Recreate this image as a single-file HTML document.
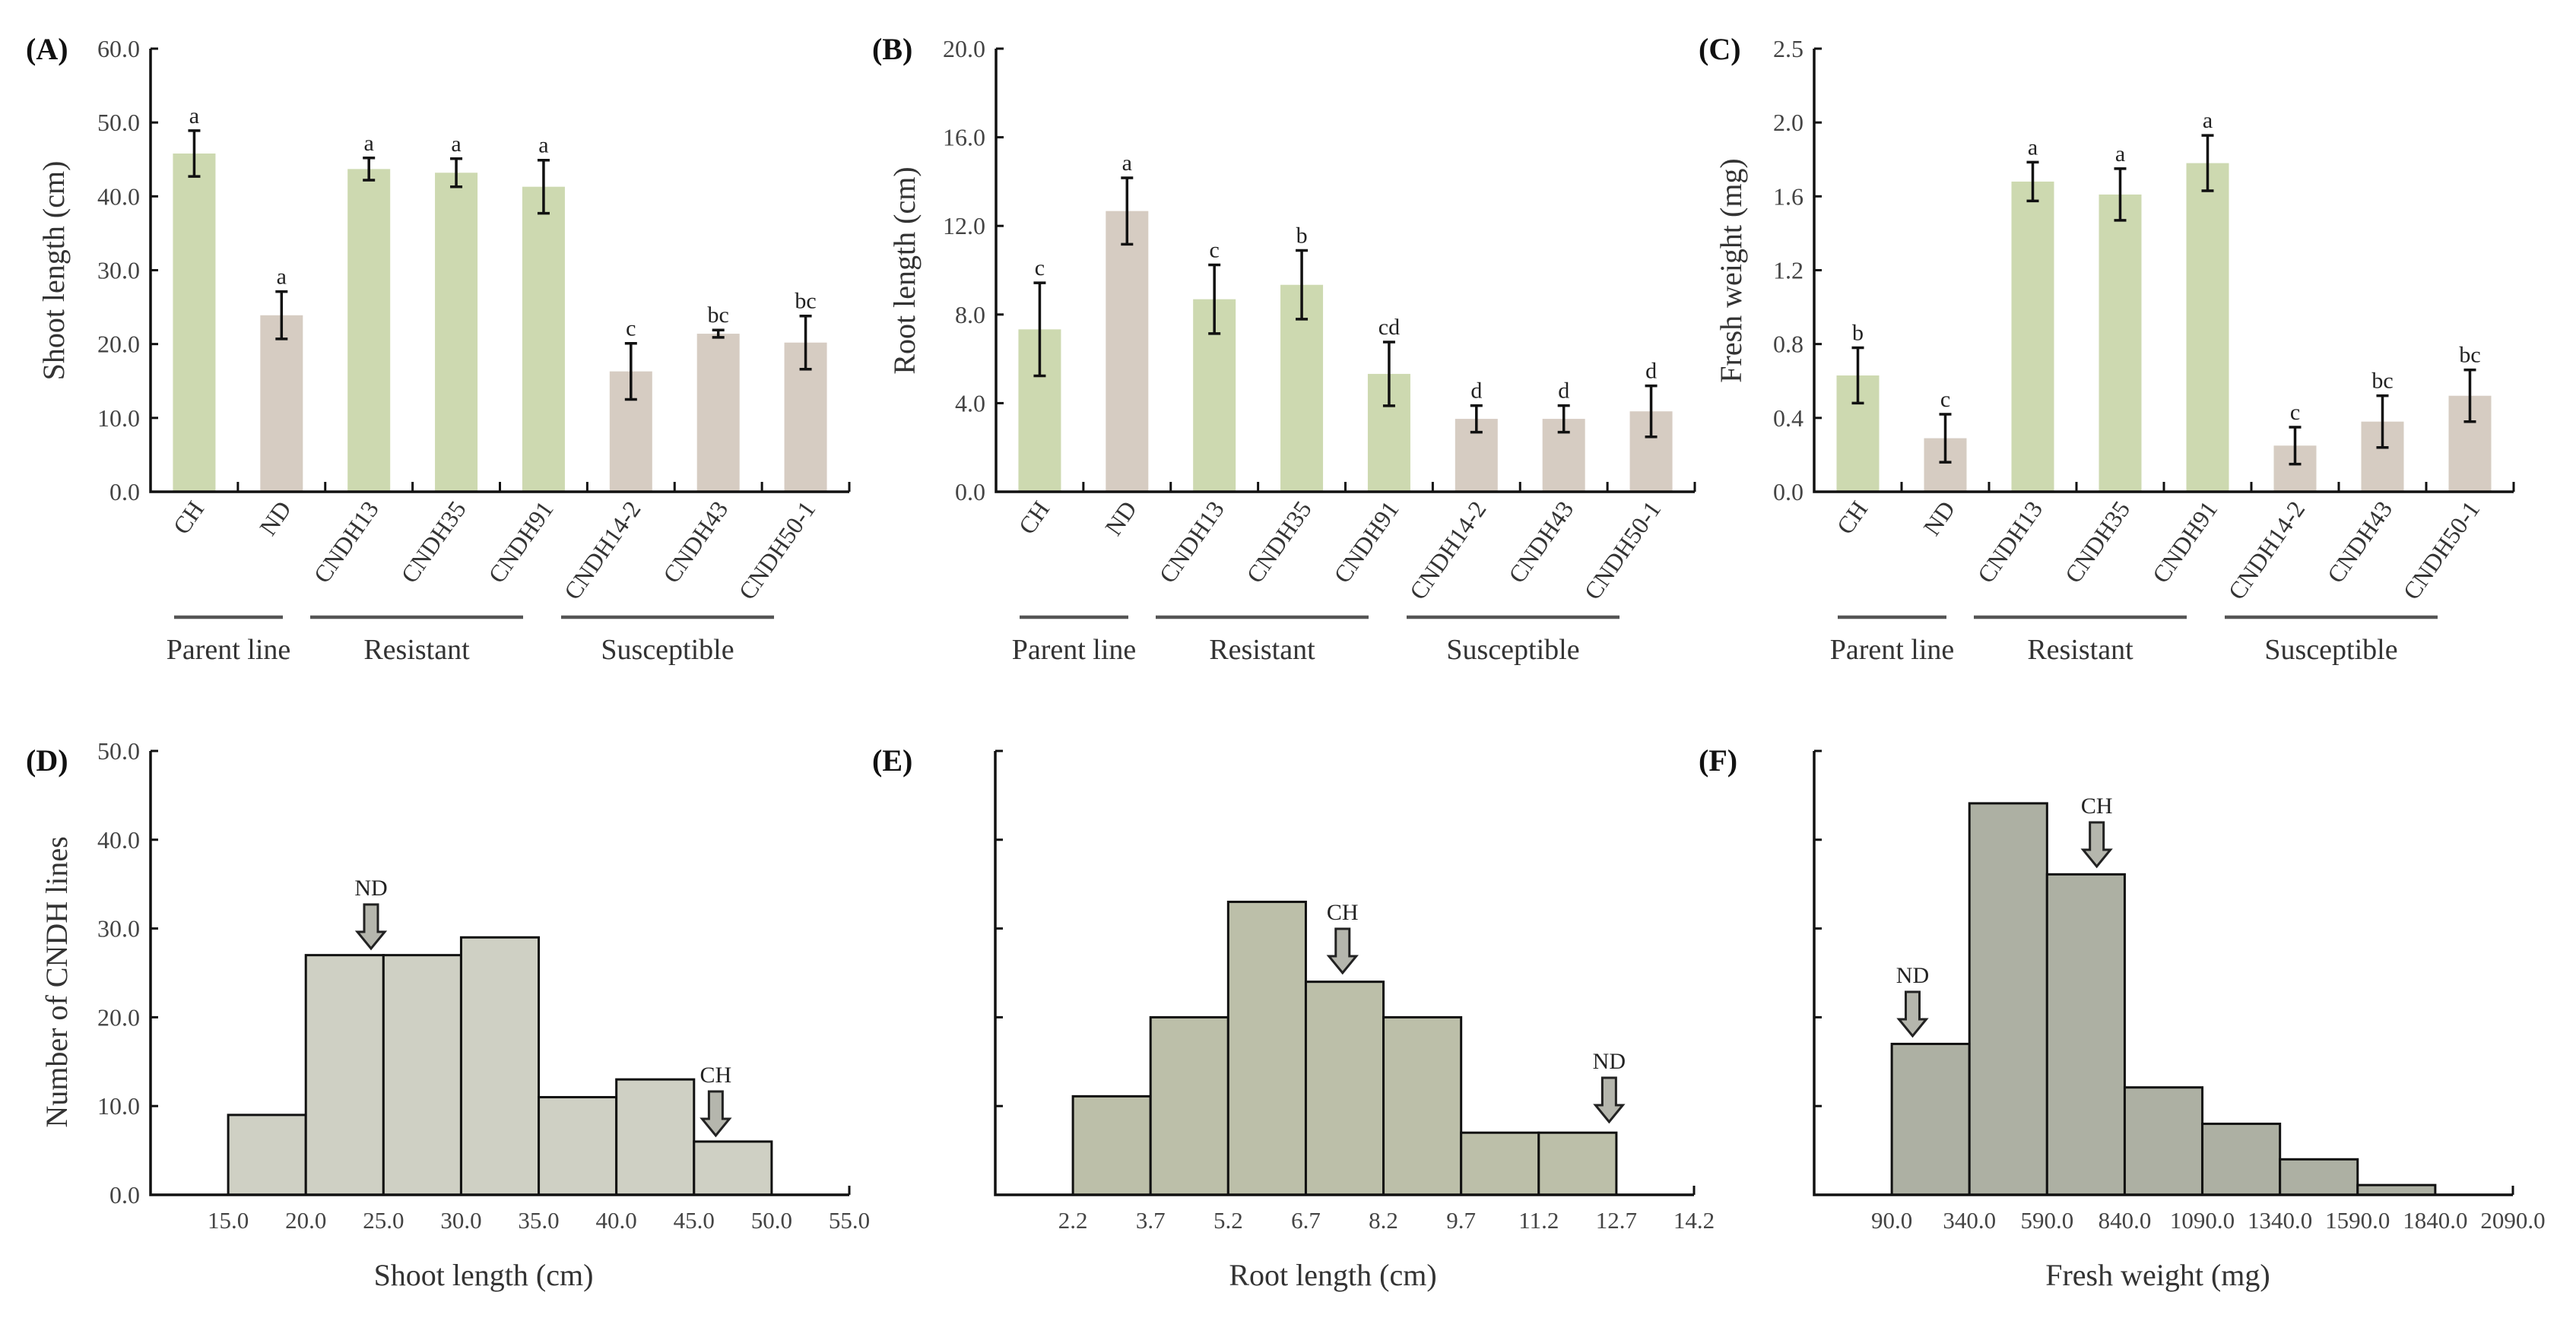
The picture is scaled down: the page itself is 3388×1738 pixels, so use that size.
<!DOCTYPE html>
<html><head><meta charset="utf-8"><style>
html,body{margin:0;padding:0;background:#fff}
svg{display:block;font-family:"Liberation Serif",serif}
</style></head><body>
<svg id="fig" width="3388" height="1738" viewBox="0 0 3388 1738" xmlns="http://www.w3.org/2000/svg"></svg>
<script>
const categories = ["CH","ND","CNDH13","CNDH35","CNDH91","CNDH14-2","CNDH43","CNDH50-1"];
const barGroup = ["g","t","g","g","g","t","t","t"];
const shootMean = [45.8,23.9,43.7,43.2,41.3,16.3,21.4,20.2];
const shootErr  = [3.1,3.2,1.5,1.9,3.6,3.8,0.5,3.6];
const shootLetters = ["a","a","a","a","a","c","bc","bc"];
const rootMean = [7.33,12.67,8.69,9.34,5.32,3.29,3.29,3.63];
const rootErr  = [2.1,1.5,1.55,1.55,1.44,0.6,0.6,1.15];
const rootLetters = ["c","a","c","b","cd","d","d","d"];
const fwMean = [0.63,0.29,1.68,1.61,1.78,0.25,0.38,0.52];
const fwErr  = [0.15,0.13,0.105,0.14,0.15,0.10,0.14,0.14];
const fwLetters = ["b","c","a","a","a","c","bc","bc"];
const shootTicks = [0,10,20,30,40,50,60];
const rootTicks = [0,4,8,12,16,20];
const fwTicks = [0,0.4,0.8,1.2,1.6,2.0,2.4];
const fwTickLabels = ["0.0","0.4","0.8","1.2","1.6","2.0","2.5"];
const groupNames = ["Parent line","Resistant","Susceptible"];

const histDEdges = [15,20,25,30,35,40,45,50];
const histDCounts = [9,27,27,29,11,13,6];
const histDTicks = [15,20,25,30,35,40,45,50,55];
const histEEdges = [2.2,3.7,5.2,6.7,8.2,9.7,11.2,12.7];
const histECounts = [11.1,20,33,24,20,7,7];
const histETicks = [2.2,3.7,5.2,6.7,8.2,9.7,11.2,12.7,14.2];
const histFEdges = [90,340,590,840,1090,1340,1590,1840];
const histFCounts = [17,44.1,36.1,12.1,8,4,1.1];
const histFTicks = [90,340,590,840,1090,1340,1590,1840,2090];
const countTicks = [0,10,20,30,40,50];

const svg = document.getElementById('fig');
const NS = "http://www.w3.org/2000/svg";
function el(tag, attrs, parent, text){
  const e = document.createElementNS(NS, tag);
  for (const k in attrs) e.setAttribute(k, attrs[k]);
  if (text !== undefined) e.textContent = text;
  (parent||svg).appendChild(e);
  return e;
}

function barPanel(o){
  const g = el('g', {});
  
  
  const yT=64, yB=647;
  const y = v => yB - (v/o.max)*(yB-yT);
  const band = (o.x1-o.x0)/categories.length;
  const cx = i => o.x0 + band*(i+0.5);
  categories.forEach((c,i)=>{
    const r = el('rect',{x:cx(i)-28,y:y(o.mean[i]),width:56,height:yB-y(o.mean[i]),fill:barGroup[i]==='g'?'#cdd9b0':'#d6ccc2'},g);
    
    
    const hi=y(o.mean[i]+o.err[i]), lo=y(o.mean[i]-o.err[i]);
    const eb = el('path',{d:`M${cx(i)},${hi}V${lo}M${cx(i)-8},${hi}H${cx(i)+8}M${cx(i)-8},${lo}H${cx(i)+8}`,stroke:'#111',"stroke-width":3.5,fill:'none'},g);
    
    
    const t = el('text',{x:cx(i),y:hi-10,"text-anchor":"middle","font-size":30,fill:'#222'},g,o.letters[i]);
    
    
    const cl = el('text',{x:0,y:0,"text-anchor":"end","font-size":32,fill:'#333',transform:`translate(${cx(i)+14},${yB+22}) rotate(-55)`},g,c);
    
    
  });
  const ax = el('path',{d:`M${o.x0},${yT}V${yB}H${o.x1}`,stroke:'#111',"stroke-width":3.5,fill:'none'},g);
  
  
  for(let i=1;i<=categories.length;i++){
    el('line',{x1:o.x0+band*i,x2:o.x0+band*i,y1:yB,y2:yB-13,stroke:'#111',"stroke-width":3},g);
  }
  o.ticks.forEach((v,i)=>{
    el('line',{x1:o.x0,x2:o.x0+10,y1:y(v),y2:y(v),stroke:'#111',"stroke-width":3},g);
    const t = el('text',{x:o.x0-14,y:y(v)+11,"text-anchor":"end","font-size":32,fill:'#444'},g,o.tlabels[i]);
    
    
  });
  const yt = el('text',{x:0,y:0,"text-anchor":"middle","font-size":40,fill:'#333',transform:`translate(${o.ytx},356) rotate(-90)`},g,o.ytitle);
  
  
  const pl = el('text',{x:o.lx,y:78,"font-size":40,"font-weight":"bold",fill:'#111'},g,o.label);
  
  
  const spans=[[31,174],[210,490],[540,820]];
  spans.forEach((s,k)=>{
    const ln = el('line',{x1:o.x0+s[0],x2:o.x0+s[1],y1:812,y2:812,stroke:'#555',"stroke-width":4.5},g);
    
    
    const gt = el('text',{x:o.x0+(s[0]+s[1])/2,y:867,"text-anchor":"middle","font-size":38,fill:'#333'},g,groupNames[k]);
    
    
  });
}

function histPanel(o){
  const g = el('g', {});
  
  
  const yT=988, yB=1572, x0=o.x0, x1=x0+919;
  const x = v => x0 + (v-o.dmin)/(o.dmax-o.dmin)*(x1-x0);
  const y = v => yB - v/50*(yB-yT);
  o.counts.forEach((c,i)=>{
    const r = el('rect',{x:x(o.edges[i]),y:y(c),width:x(o.edges[i+1])-x(o.edges[i]),height:yB-y(c),fill:o.fill,stroke:'#111',"stroke-width":3},g);
    
    
  });
  const ax = el('path',{d:`M${x0},${yT}V${yB}H${x1}`,stroke:'#111',"stroke-width":3.5,fill:'none'},g);
  
  
  el('line',{x1:x1,x2:x1,y1:yB,y2:yB-12,stroke:'#111',"stroke-width":3},g);
  countTicks.forEach(v=>{
    el('line',{x1:x0,x2:x0+10,y1:y(v),y2:y(v),stroke:'#111',"stroke-width":3},g);
    if(o.ylabels){
      const t = el('text',{x:x0-14,y:y(v)+11,"text-anchor":"end","font-size":32,fill:'#444'},g,v.toFixed(1));
      
      
    }
  });
  o.ticks.forEach(v=>{
    const t = el('text',{x:x(v),y:1616,"text-anchor":"middle","font-size":31,fill:'#444'},g,v.toFixed(1));
    
    
  });
  const xt = el('text',{x:o.xtx,y:1691,"text-anchor":"middle","font-size":40,fill:'#333'},g,o.xtitle);
  
  
  if(o.ytitle){
    const yt = el('text',{x:0,y:0,"text-anchor":"middle","font-size":40,fill:'#333',transform:`translate(88,1292) rotate(-90)`},g,o.ytitle);
    
    
  }
  const pl = el('text',{x:o.lx,y:1014,"font-size":40,"font-weight":"bold",fill:'#111'},g,o.label);
  
  
  o.arrows.forEach(a=>{
    const ax_=x(a.v), t=a.top;
    const ar = el('path',{d:`M${ax_-9},${t}H${ax_+9}V${t+36}H${ax_+18}L${ax_},${t+58}L${ax_-18},${t+36}H${ax_-9}Z`,fill:'#b5b6ad',stroke:'#222',"stroke-width":3},g);
    
    
    const at = el('text',{x:ax_,y:t-12,"text-anchor":"middle","font-size":30,fill:'#222'},g,a.name);
    
    
  });
}

barPanel({name:'panel-a-shoot-length',x0:198,x1:1117,max:60,mean:shootMean,err:shootErr,letters:shootLetters,ticks:shootTicks,tlabels:shootTicks.map(v=>v.toFixed(1)),ytitle:'Shoot length (cm)',ytx:84,label:'(A)',lx:34});
barPanel({name:'panel-b-root-length',x0:1310,x1:2229,max:20,mean:rootMean,err:rootErr,letters:rootLetters,ticks:rootTicks,tlabels:rootTicks.map(v=>v.toFixed(1)),ytitle:'Root length (cm)',ytx:1203,label:'(B)',lx:1147});
barPanel({name:'panel-c-fresh-weight',x0:2386,x1:3306,max:2.4,mean:fwMean,err:fwErr,letters:fwLetters,ticks:fwTicks,tlabels:fwTickLabels,ytitle:'Fresh weight (mg)',ytx:2290,label:'(C)',lx:2234});
histPanel({name:'panel-d-shoot-histogram',x0:198,dmin:10,dmax:55,edges:histDEdges,counts:histDCounts,ticks:histDTicks,fill:'#cfd0c4',xtitle:'Shoot length (cm)',xtx:636,ytitle:'Number of CNDH lines',ylabels:true,label:'(D)',lx:34,arrows:[{name:'ND',v:24.2,top:1190},{name:'CH',v:46.4,top:1436}]});
histPanel({name:'panel-e-root-histogram',x0:1309,dmin:0.7,dmax:14.2,edges:histEEdges,counts:histECounts,ticks:histETicks,fill:'#bcbfa9',xtitle:'Root length (cm)',xtx:1753,ylabels:false,label:'(E)',lx:1147,arrows:[{name:'CH',v:7.41,top:1222},{name:'ND',v:12.56,top:1418}]});
histPanel({name:'panel-f-fresh-weight-histogram',x0:2386,dmin:-160,dmax:2090,edges:histFEdges,counts:histFCounts,ticks:histFTicks,fill:'#adb0a3',xtitle:'Fresh weight (mg)',xtx:2838,ylabels:false,label:'(F)',lx:2234,arrows:[{name:'ND',v:157,top:1305},{name:'CH',v:750,top:1082}]});
</script>
</body></html>
